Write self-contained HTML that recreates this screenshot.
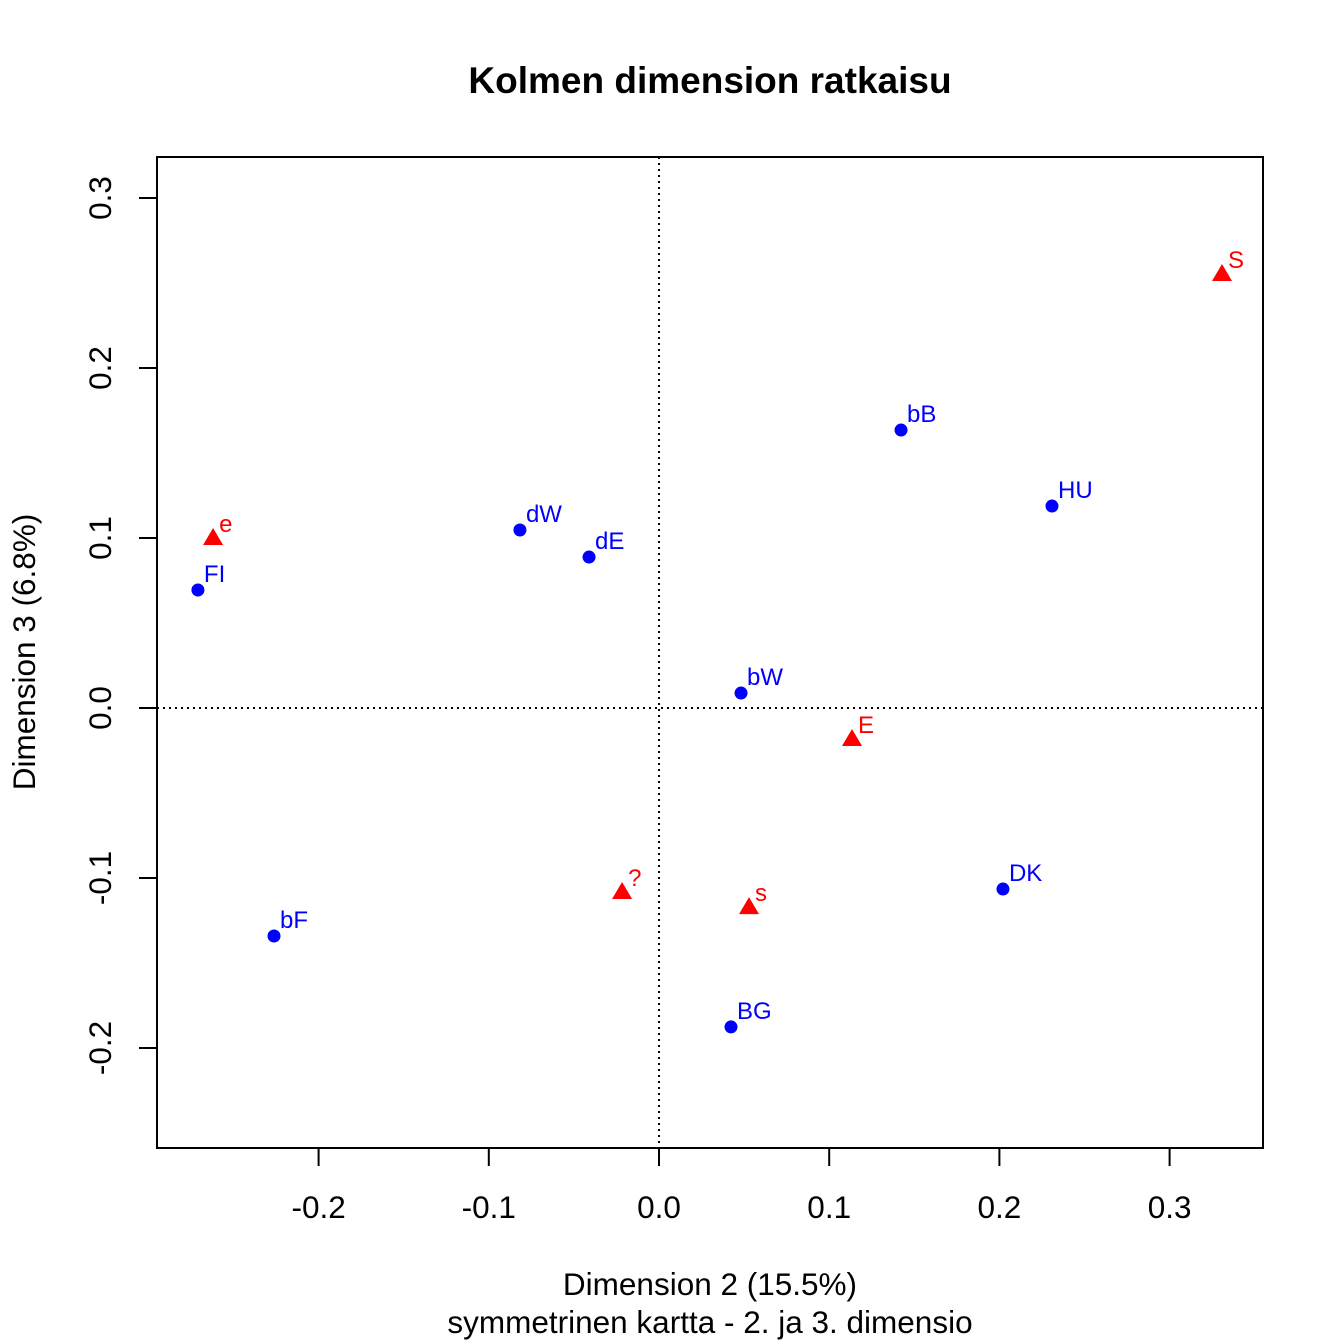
<!DOCTYPE html>
<html><head><meta charset="utf-8"><style>body{margin:0;background:#fff}svg{display:block}text{font-family:"Liberation Sans",Arial,sans-serif}</style></head>
<body>
<svg id="chart" width="1344" height="1344">
<rect width="1344" height="1344" fill="#fff"/>
<text x="710" y="93" font-size="37" font-weight="bold" text-anchor="middle">Kolmen dimension ratkaisu</text>
<text x="710" y="1295" font-size="31.5" text-anchor="middle">Dimension 2 (15.5%)</text>
<text x="710" y="1333" font-size="31.5" text-anchor="middle">symmetrinen kartta - 2. ja 3. dimensio</text>
<text transform="translate(35,652) rotate(-90)" font-size="31.5" text-anchor="middle">Dimension 3 (6.8%)</text>
<rect x="157" y="157" width="1106" height="991" fill="none" stroke="#000" stroke-width="2"/>
<g id="axes"></g><g id="marks"></g>
</svg>
<script>
const rowLabels=["FI","dW","dE","bB","HU","bW","DK","bF","BG"];
const rowX=[-0.2709,-0.0817,-0.0411,0.1422,0.2309,0.0482,0.2021,-0.2262,0.0423];
const rowY=[0.0694,0.1047,0.0888,0.1635,0.1188,0.0088,-0.1065,-0.1341,-0.1876];
const colLabels=["e","S","E","?","s"];
const colX=[-0.262,0.3308,0.1134,-0.0217,0.0529];
const colY=[0.100,0.2553,-0.0182,-0.1082,-0.1171];
const xTicks=[-0.2,-0.1,0.0,0.1,0.2,0.3];
const xTickLabels=["-0.2","-0.1","0.0","0.1","0.2","0.3"];
const yTicks=[-0.2,-0.1,0.0,0.1,0.2,0.3];
const yTickLabels=["-0.2","-0.1","0.0","0.1","0.2","0.3"];
const NS="http://www.w3.org/2000/svg";
const sx=v=>659+v*1702, sy=v=>708-v*1700;
function mk(t,a,p){const e=document.createElementNS(NS,t);for(const k in a)e.setAttribute(k,a[k]);p.appendChild(e);return e;}
const ax=document.getElementById('axes'), mg=document.getElementById('marks');
mk('line',{x1:157,x2:1263,y1:sy(0),y2:sy(0),stroke:'#000','stroke-width':2,'stroke-dasharray':'2,4'},ax);
mk('line',{x1:sx(0),x2:sx(0),y1:157,y2:1148,stroke:'#000','stroke-width':2,'stroke-dasharray':'2,4'},ax);
mk('line',{x1:sx(-0.2),x2:sx(0.3),y1:1148,y2:1148,stroke:'#000','stroke-width':2},ax);
mk('line',{x1:157,x2:157,y1:sy(-0.2),y2:sy(0.3),stroke:'#000','stroke-width':2},ax);
xTicks.forEach((v,i)=>{
 const l=mk('line',{x1:sx(v),x2:sx(v),y1:1148,y2:1166,stroke:'#000','stroke-width':2},ax);
 
 const t=mk('text',{x:sx(v),y:1218,'font-size':31.5,'text-anchor':'middle'},ax);t.textContent=xTickLabels[i];
 
 
});
yTicks.forEach((v,i)=>{
 const l=mk('line',{x1:139,x2:157,y1:sy(v),y2:sy(v),stroke:'#000','stroke-width':2},ax);
 
 const t=mk('text',{transform:`translate(111,${sy(v)}) rotate(-90)`,'font-size':31.5,'text-anchor':'middle'},ax);t.textContent=yTickLabels[i];
 
 
});
rowLabels.forEach((n,i)=>{
 const x=sx(rowX[i]),y=sy(rowY[i]);
 const c=mk('circle',{cx:x,cy:y,r:6.5,fill:'#0000ff'},mg);
 
 
 const t=mk('text',{x:x+6,y:y-8,'font-size':24,fill:'#0000ff'},mg);t.textContent=n;
 
 
});
colLabels.forEach((n,i)=>{
 const x=sx(colX[i]),y=sy(colY[i]);
 const p=mk('polygon',{points:`${x},${y-10} ${x-10},${y+7} ${x+10},${y+7}`,fill:'#ff0000'},mg);
 
 
 const t=mk('text',{x:x+6,y:y-6,'font-size':24,fill:'#ff0000'},mg);t.textContent=n;
 
 
});
</script>
</body></html>
